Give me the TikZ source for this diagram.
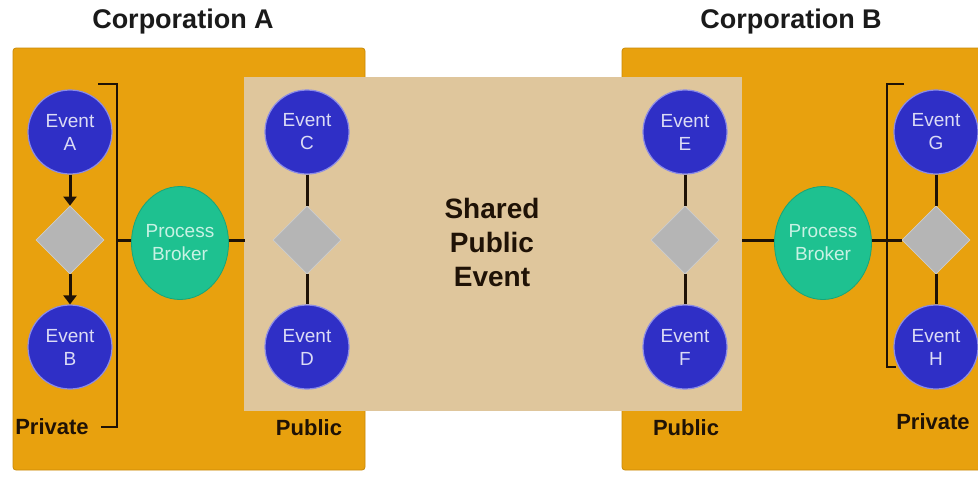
\documentclass[tikz,border=0pt]{standalone}
\usepackage{fontspec}
\setmainfont{Liberation Sans}
\usetikzlibrary{shapes.geometric,arrows.meta}

\definecolor{corpfill}{HTML}{E8A10E}
\definecolor{corpedge}{HTML}{C98A08}
\definecolor{sharedfill}{HTML}{DFC69C}
\definecolor{evfill}{HTML}{2F2FC6}
\definecolor{evring}{HTML}{8C8CE6}
\definecolor{evtext}{HTML}{DCDCF5}
\definecolor{brkfill}{HTML}{1EC190}
\definecolor{brkedge}{HTML}{17A57A}
\definecolor{brktext}{HTML}{C8F2E4}
\definecolor{gatefill}{HTML}{B5B5B5}
\definecolor{gateedge}{HTML}{CDCDCD}
\definecolor{inkline}{HTML}{1F1206}
\definecolor{titleink}{HTML}{1A1A1A}

\begin{document}
\begin{tikzpicture}[x=1pt,y=-1pt,
  corpbox/.style={fill=corpfill, draw=corpedge, line width=0.8pt, rounded corners=3pt},
  sharedbox/.style={fill=sharedfill, draw=none},
  evnode/.style={circle, minimum size=84pt, inner sep=0pt, fill=evfill, draw=evring,
    line width=1.2pt, text=evtext, align=center, font=\fontsize{19}{23}\selectfont},
  gatenode/.style={diamond, shape aspect=1, minimum width=68pt, minimum height=68pt,
    inner sep=0pt, fill=gatefill, draw=gateedge, line width=0.8pt},
  brokernode/.style={ellipse, minimum width=96pt, minimum height=113pt, inner sep=0pt,
    fill=brkfill, draw=brkedge, line width=0.8pt, text=brktext, align=center,
    font=\fontsize{19}{23}\selectfont},
  link/.style={draw=inkline, line width=3pt},
  flow/.style={link, -{Triangle[length=9pt,width=13pt]}},
  bracketline/.style={draw=inkline, line width=2.4pt},
  titletext/.style={text=titleink, font=\bfseries\fontsize{27}{32}\selectfont},
  zonetext/.style={text=inkline, font=\bfseries\fontsize{22}{26}\selectfont},
  bigtext/.style={text=inkline, align=center, font=\bfseries\fontsize{28}{34}\selectfont}]

% canvas
\fill[white] (0,0) rectangle (978,477);
\useasboundingbox (0,0) rectangle (978,477);

% corporation areas and the shared public area
\begin{scope}
  \clip (0,0) rectangle (978,477);
  \path[corpbox] (13,48) rectangle (365,470);
  \path[corpbox] (622,48) rectangle (990,470);
\end{scope}
\path[sharedbox] (244,77) rectangle (742,411);

% titles
\node[titletext] (titleA) at (183,22) {Corporation A};
\node[titletext] (titleB) at (791,22) {Corporation B};

% private brackets
\draw[bracketline] (98,84) -- (117,84) -- (117,427) -- (101,427);
\draw[bracketline] (904,84) -- (887,84) -- (887,367) -- (896,367);

% junction points
\coordinate (jA) at (117,240);
\coordinate (tanL) at (245,240);
\coordinate (tanR) at (742,240);

% corporation A, private process
\node[evnode] (A) at (70,132) {Event\\A};
\node[gatenode] (gA) at (70,240) {};
\node[evnode] (B) at (70,347) {Event\\B};

% corporation A, public process
\node[evnode] (C) at (307,132) {Event\\C};
\node[gatenode] (gC) at (307,240) {};
\node[evnode] (D) at (307,347) {Event\\D};

% corporation B, public process
\node[evnode] (E) at (685,132) {Event\\E};
\node[gatenode] (gE) at (685,240) {};
\node[evnode] (F) at (685,347) {Event\\F};

% corporation B, private process
\node[evnode] (G) at (936,132) {Event\\G};
\node[gatenode] (gG) at (936,240) {};
\node[evnode] (H) at (936,347) {Event\\H};

% process brokers
\node[brokernode] (brkA) at (180,243) {Process\\Broker};
\node[brokernode] (brkB) at (823,243) {Process\\Broker};

% centre label
\node[bigtext] (shared) at (492,242) {Shared\\Public\\Event};

% zone labels
\node[zonetext] (privA) at (52,427) {Private};
\node[zonetext] (pubA) at (309,428) {Public};
\node[zonetext] (pubB) at (686,428) {Public};
\node[zonetext] (privB) at (933,422) {Private};

% connectors
\draw[flow] (A) -- (gA);
\draw[flow] (gA) -- (B);
\draw[link] (C) -- (gC);
\draw[link] (gC) -- (D);
\draw[link] (E) -- (gE);
\draw[link] (gE) -- (F);
\draw[link] (G) -- (gG);
\draw[link] (gG) -- (H);
\draw[link] (jA) -- (jA -| brkA.west);
\draw[link] (tanL -| brkA.east) -- (tanL);
\draw[link] (tanR) -- (tanR -| brkB.west);
\draw[link] (brkB.east |- gG) -- (gG.west);

\end{tikzpicture}
\end{document}
